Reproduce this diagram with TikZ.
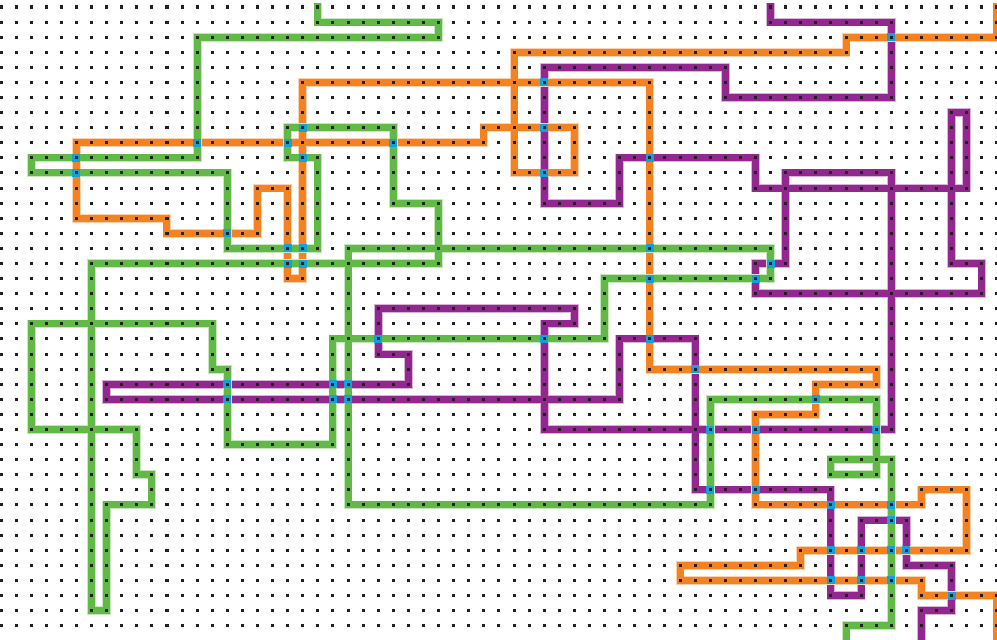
\documentclass[tikz,border=0pt]{standalone}
\definecolor{gr}{HTML}{62BA46}
\definecolor{og}{HTML}{F58220}
\definecolor{pu}{HTML}{92278F}
\definecolor{bl}{HTML}{0FA3DE}
\definecolor{dt}{HTML}{231F20}
\tikzset{
  route/.style={line width=6.6pt, line cap=rect, line join=miter, draw=#1,
    preaction={draw=#1!35, line width=8.2pt, line cap=rect, line join=miter}},
  crossmark/.style={fill=bl},
  griddot/.style={fill=dt}
}
\begin{document}
\begin{tikzpicture}[x=0.5cm,y=-0.5cm]
\useasboundingbox (-0.0663,-0.4639) rectangle (66.004,41.948);
% purple route
\draw[route=pu] (51,0)--(51,1)--(59,1)--(59,6)--(48,6)--(48,4)--(36,4)--(36,13)--(41,13)--(41,10)--(50,10)--(50,12)--(64,12)--(64,7)--(63,7)--(63,17)--(65,17)--(65,19)--(50,19)--(50,17)--(52,17)--(52,11)--(59,11)--(59,28)--(36,28)--(36,21)--(38,21)--(38,20)--(25,20)--(25,23)--(27,23)--(27,25)--(7,25)--(7,26)--(41,26)--(41,22)--(46,22)--(46,32)--(55,32)--(55,39)--(57,39)--(57,34)--(60,34)--(60,37)--(63,37)--(63,40)--(61,40)--(61,42.8);
% orange route
\draw[route=og] (66,0)--(66,2)--(56,2)--(56,3)--(34,3)--(34,11)--(38,11)--(38,8)--(32,8)--(32,9)--(5,9)--(5,14)--(11,14)--(11,15)--(17,15)--(17,12)--(19,12)--(19,18)--(20,18)--(20,5)--(43,5)--(43,24)--(58,24)--(58,25)--(54,25)--(54,27)--(50,27)--(50,33)--(61,33)--(61,32)--(64,32)--(64,36)--(53,36)--(53,37)--(45,37)--(45,38)--(61,38)--(61,39)--(66,39)--(66,42.8);
% green route
\draw[route=gr] (21,0)--(21,1)--(29,1)--(29,2)--(13,2)--(13,10)--(2,10)--(2,11)--(15,11)--(15,16)--(21,16)--(21,10)--(19,10)--(19,8)--(26,8)--(26,13)--(29,13)--(29,17)--(6,17)--(6,40)--(7,40)--(7,33)--(10,33)--(10,31)--(9,31)--(9,28)--(2,28)--(2,21)--(14,21)--(14,24)--(15,24)--(15,29)--(22,29)--(22,22)--(40,22)--(40,18)--(51,18)--(51,16)--(23,16)--(23,33)--(47,33)--(47,26)--(58,26)--(58,31)--(55,31)--(55,30)--(59,30)--(59,41)--(56,41)--(56,42.8);
% crossing markers
\foreach \x/\y in {13/9,5/10,5/11,20/8,19/9,26/9,20/10,36/5,36/8,36/11,43/10,59/2,
  15/15,15/25,15/26,19/16,20/16,19/17,20/17,25/22,22/25,23/25,22/26,23/26,
  43/16,43/18,36/22,43/22,46/24,51/17,50/18,54/26,47/28,47/32,
  50/28,58/28,50/32,55/33,59/33,59/34,55/36,57/36,59/36,60/36,55/38,57/38,59/38,63/39}
  \fill[crossmark] (\x-0.265,\y-0.265) rectangle (\x+0.265,\y+0.265);
% dot grid
\foreach \i in {0,...,66}
  \foreach \j in {0,...,41}
    \fill[griddot] (\i-0.1,\j-0.1) rectangle (\i+0.1,\j+0.1);
\end{tikzpicture}
\end{document}
